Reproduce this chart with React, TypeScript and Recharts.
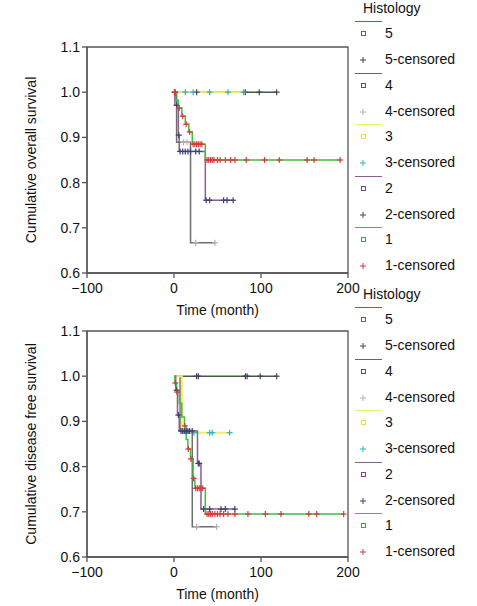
import React from "react";
import {
  ComposedChart,
  Line,
  Scatter,
  XAxis,
  YAxis,
  ReferenceArea,
} from "recharts";

// overall survival (top panel)
const osG1Time = [0, 2, 5, 9, 13, 17, 21, 36, 191];
const osG1Surv = [1, 0.982, 0.965, 0.947, 0.929, 0.912, 0.885, 0.85, 0.85];
const osG1Cens = [0.5, 1.5, 6, 10, 14, 18, 22, 24, 26, 28, 30, 32, 38, 40, 42, 44, 46, 50, 53, 59, 65, 70, 83, 104, 121, 153, 161, 191];
const osG2Time = [0, 1, 5, 6, 36, 68];
const osG2Surv = [1, 0.971, 0.905, 0.869, 0.761, 0.761];
const osG2Cens = [3, 5.5, 7, 10, 13, 16, 19, 25, 29, 37, 41, 57, 61, 68];
const osG3Time = [0, 80];
const osG3Surv = [1, 1];
const osG3Cens = [13, 22, 41, 62, 80];
const osG4Time = [0, 3, 19, 47];
const osG4Surv = [1, 0.889, 0.667, 0.667];
const osG4Cens = [11, 15, 25, 47];
const osG5Time = [0, 118];
const osG5Surv = [1, 1];
const osG5Cens = [1, 26, 82, 98, 118];

// disease free survival (bottom panel)
const dfsG1Time = [0, 1, 3, 6, 9, 12, 14, 16, 19, 22, 24, 36, 195];
const dfsG1Surv = [1, 0.985, 0.965, 0.94, 0.91, 0.89, 0.86, 0.839, 0.817, 0.774, 0.752, 0.695, 0.695];
const dfsG1Cens = [1.5, 3.5, 12.5, 16.5, 19.5, 22.5, 25, 27, 29, 31, 33, 38, 40, 42, 44, 47, 50, 53, 57, 62, 70, 85, 105, 123, 155, 164, 195];
const dfsG2Time = [0, 2, 4, 6, 27, 31, 70];
const dfsG2Surv = [1, 0.969, 0.914, 0.879, 0.807, 0.706, 0.706];
const dfsG2Cens = [3, 5, 8, 10, 12, 14, 16, 18, 21, 28, 29, 34, 41, 54, 59, 70];
const dfsG3Time = [0, 9, 65];
const dfsG3Surv = [1, 0.875, 0.875];
const dfsG3Cens = [14, 23, 41, 44, 64];
const dfsG4Time = [0, 7, 21, 49];
const dfsG4Surv = [1, 0.88, 0.667, 0.667];
const dfsG4Cens = [26, 49];
const dfsG5Time = [0, 118];
const dfsG5Surv = [1, 1];
const dfsG5Cens = [26, 28, 82, 84, 99, 118];

const groupNames = ["5", "4", "3", "2", "1"];
const xTicks = [-100, 0, 100, 200];
const yTicks = [0.6, 0.7, 0.8, 0.9, 1.0, 1.1];

const lineColors: Record<string, string> = {
  "5": "#3f5f3f",
  "4": "#6e6e6e",
  "3": "#f2ee64",
  "2": "#8c5f8c",
  "1": "#3fbf3f",
};
const legendLineColors: Record<string, string> = {
  "5": "#4a7d4a",
  "4": "#666666",
  "3": "#f2ee64",
  "2": "#8c5f8c",
  "1": "#3fbf3f",
};
const boxColors: Record<string, string> = {
  "5": "#3f7a3f",
  "4": "#555555",
  "3": "#e8e040",
  "2": "#8a3a8a",
  "1": "#33aa33",
};
const censorColors: Record<string, string> = {
  "5": "#4a3f5e",
  "4": "#b0b0b0",
  "3": "#2eb4c4",
  "2": "#3c4274",
  "1": "#d23c3c",
};

const FONT = "'Liberation Sans', Arial, sans-serif";

type Pt = { t: number; s: number };

const curve = (times: number[], surv: number[]): Pt[] =>
  times.map((t, i) => ({ t, s: surv[i] }));

const stepAt = (times: number[], surv: number[], x: number) => {
  let v = surv[0];
  times.forEach((t, i) => {
    if (t <= x) v = surv[i];
  });
  return v;
};

const censors = (times: number[], surv: number[], cens: number[]): Pt[] =>
  cens.map((c) => ({ t: c, s: stepAt(times, surv, c) }));

const osGroups = {
  "1": [osG1Time, osG1Surv, osG1Cens],
  "2": [osG2Time, osG2Surv, osG2Cens],
  "3": [osG3Time, osG3Surv, osG3Cens],
  "4": [osG4Time, osG4Surv, osG4Cens],
  "5": [osG5Time, osG5Surv, osG5Cens],
};
const dfsGroups = {
  "1": [dfsG1Time, dfsG1Surv, dfsG1Cens],
  "2": [dfsG2Time, dfsG2Surv, dfsG2Cens],
  "3": [dfsG3Time, dfsG3Surv, dfsG3Cens],
  "4": [dfsG4Time, dfsG4Surv, dfsG4Cens],
  "5": [dfsG5Time, dfsG5Surv, dfsG5Cens],
};

const PlusMark = (props: any) => {
  const { cx, cy, fill } = props;
  if (cx == null || cy == null) return null;
  return (
    <g stroke={fill} strokeWidth={1.2}>
      <line x1={cx - 3} x2={cx + 3} y1={cy} y2={cy} />
      <line x1={cx} x2={cx} y1={cy - 3} y2={cy + 3} />
    </g>
  );
};

const fmtX = (v: number) => (v < 0 ? `\u2212${-v}` : `${v}`);

function Legend({ offset }: { offset: number }) {
  return (
    <div
      style={{
        position: "absolute",
        left: 355,
        top: offset,
        width: 122,
        fontFamily: FONT,
        fontSize: 14,
        color: "#111",
      }}
    >
      <div style={{ position: "absolute", left: 8, top: 0, lineHeight: "17px" }}>
        Histology
      </div>
      {groupNames.map((g, i) => {
        const top = 22 + i * 51.5;
        return (
          <div key={g}>
            <div
              style={{
                position: "absolute",
                left: 0,
                top: top - 1,
                width: 27,
                height: 0,
                borderTop: `1.5px solid ${legendLineColors[g]}`,
              }}
            />
            <div
              style={{
                position: "absolute",
                left: 6,
                top: top + 9,
                width: 3,
                height: 3,
                border: `1px solid ${boxColors[g]}`,
              }}
            />
            <div style={{ position: "absolute", left: 30, top: top + 3, lineHeight: "17px" }}>
              {g}
            </div>
            <svg
              style={{ position: "absolute", left: 4, top: top + 34 }}
              width={8}
              height={8}
            >
              <line x1={1} x2={7} y1={4} y2={4} stroke={censorColors[g]} strokeWidth={1} />
              <line x1={4} x2={4} y1={1} y2={7} stroke={censorColors[g]} strokeWidth={1} />
            </svg>
            <div style={{ position: "absolute", left: 30, top: top + 29, lineHeight: "17px" }}>
              {g}-censored
            </div>
          </div>
        );
      })}
    </div>
  );
}

function SurvivalPanel({
  top,
  legendOffset,
  yTitle,
  groups,
}: {
  top: number;
  legendOffset: number;
  yTitle: string;
  groups: Record<string, number[][]>;
}) {
  const order = ["5", "4", "3", "2", "1"];
  return (
    <div style={{ position: "absolute", left: 0, top, width: 477, height: 320 }}>
      <ComposedChart
        width={477}
        height={320}
        margin={{ top: 47, right: 129, bottom: 2, left: 27 }}
        style={{ fontFamily: FONT }}
      >
        <XAxis
          type="number"
          dataKey="t"
          domain={[-100, 200]}
          ticks={xTicks}
          tickFormatter={fmtX}
          allowDataOverflow
          height={45}
          tickSize={5}
          tickMargin={5}
          stroke="#555"
          strokeWidth={1.3}
          tick={{ fill: "#111", fontSize: 14 }}
          label={{
            value: "Time (month)",
            position: "insideBottom",
            offset: 3,
            fill: "#111",
            fontSize: 14,
          }}
        />
        <YAxis
          type="number"
          dataKey="s"
          domain={[0.6, 1.1]}
          ticks={yTicks}
          tickFormatter={(v: number) => v.toFixed(1)}
          allowDataOverflow
          width={60}
          tickSize={5}
          stroke="#555"
          strokeWidth={1.3}
          tick={{ fill: "#111", fontSize: 14 }}
          label={{
            value: yTitle,
            angle: -90,
            position: "insideLeft",
            offset: 4,
            fill: "#111",
            fontSize: 14,
            style: { textAnchor: "middle" },
          }}
        />
        <ReferenceArea
          x1={-100}
          x2={200}
          y1={0.6}
          y2={1.1}
          fill="none"
          stroke="#555"
          strokeWidth={1.3}
          ifOverflow="visible"
        />
        {order.map((g) => (
          <Line
            key={`l${g}`}
            data={curve(groups[g][0], groups[g][1])}
            dataKey="s"
            type="stepAfter"
            stroke={lineColors[g]}
            strokeWidth={g === "3" ? 2 : 1.5}
            dot={false}
            isAnimationActive={false}
          />
        ))}
        {order.map((g) => (
          <Scatter
            key={`c${g}`}
            data={censors(groups[g][0], groups[g][1], groups[g][2])}
            dataKey="s"
            fill={censorColors[g]}
            shape={<PlusMark />}
            isAnimationActive={false}
          />
        ))}
      </ComposedChart>
      <Legend offset={legendOffset} />
    </div>
  );
}

export default function App() {
  return (
    <div
      style={{
        position: "absolute",
        left: 0,
        top: 0,
        width: 477,
        height: 606,
        background: "#fff",
        overflow: "hidden",
      }}
    >
      <SurvivalPanel
        top={0}
        legendOffset={0}
        yTitle="Cumulative overall survival"
        groups={osGroups}
      />
      <SurvivalPanel
        top={284}
        legendOffset={2}
        yTitle="Cumulative disease free survival"
        groups={dfsGroups}
      />
    </div>
  );
}
